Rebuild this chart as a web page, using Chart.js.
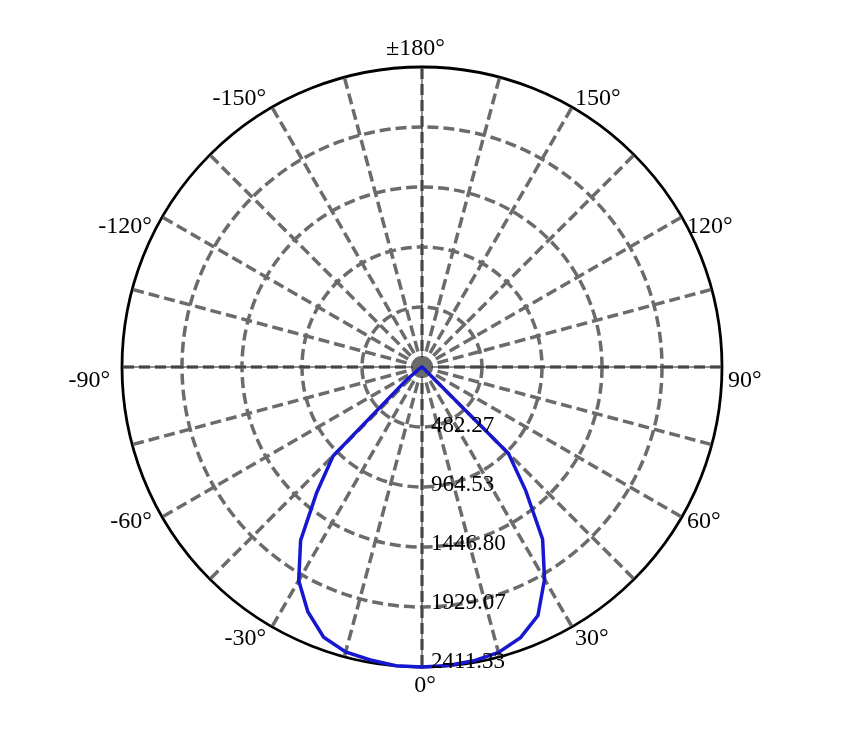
<!DOCTYPE html>
<html>
<head>
<meta charset="utf-8">
<script src="https://cdn.jsdelivr.net/npm/chart.js@4.4.1/dist/chart.umd.min.js"></script>
<style>
  html, body { margin: 0; padding: 0; background: #ffffff; }
  #wrap { width: 849px; height: 731px; }
</style>
</head>
<body>
<div id="wrap"><canvas id="polar" width="849" height="731"></canvas></div>
<script>
// === データ ===
// 角度 (0° = 下, 正 = 右回り表示), 5°刻み, 上(±180°)から時計回り
const angles = [180, 175, 170, 165, 160, 155, 150, 145, 140, 135, 130, 125,
                120, 115, 110, 105, 100, 95, 90, 85, 80, 75, 70, 65,
                60, 55, 50, 45, 40, 35, 30, 25, 20, 15, 10, 5,
                0, -5, -10, -15, -20, -25, -30, -35, -40, -45, -50, -55,
                -60, -65, -70, -75, -80, -85, -90, -95, -100, -105, -110, -115,
                -120, -125, -130, -135, -140, -145, -150, -155, -160, -165, -170, -175];

// 光度 (cd)
const intensity = [0, 0, 0, 0, 0, 0, 0, 0, 0, 0, 0, 0,
                   0, 0, 0, 0, 0, 0, 0, 0, 0, 0, 0, 0,
                   0, 4, 16, 983, 1297, 1690, 1970, 2205, 2315, 2375, 2398, 2409,
                   2411.33, 2410, 2391, 2371, 2311, 2171, 1982, 1701, 1316, 1011, 169, 24,
                   8, 0, 0, 0, 0, 0, 0, 0, 0, 0, 0, 0,
                   0, 0, 0, 0, 0, 0, 0, 0, 0, 0, 0, 0];

// 目盛り
const maxIntensity = 2411.334;
const ringLabels = ['482.27', '964.53', '1446.80', '1929.07', '2411.33'];
const angleMarks = [180, 150, 120, 90, 60, 30, 0, -30, -60, -90, -120, -150];
const angleLabels = ['±180°', '150°', '120°', '90°', '60°', '30°', '0°', '-30°', '-60°', '-90°', '-120°', '-150°'];

const GRID_GRAY = '#6b6b6b';
const LABEL_FONT = '24px "Liberation Serif"';
const TICK_FONT = '23px "Liberation Serif"';

// === 装飾 (軸ラベル, 中心) ===
const polarDecor = {
    id: 'polarDecor',
    beforeDatasetsDraw(chart) {
        const s = chart.scales.r;
        const ctx = chart.ctx;
        const R = s.drawingArea;
        ctx.save();
        // 0/90/180/270 の細い実線
        ctx.strokeStyle = '#222';
        ctx.lineWidth = 1;
        ctx.beginPath();
        ctx.moveTo(s.xCenter - R, s.yCenter);
        ctx.lineTo(s.xCenter + R, s.yCenter);
        ctx.moveTo(s.xCenter, s.yCenter - R);
        ctx.lineTo(s.xCenter, s.yCenter + R);
        ctx.stroke();
        // 中心の灰色の円
        ctx.fillStyle = GRID_GRAY;
        ctx.beginPath();
        ctx.arc(s.xCenter, s.yCenter, 9.5, 0, Math.PI * 2);
        ctx.fill();
        ctx.restore();
    },
    afterDatasetsDraw(chart) {
        const s = chart.scales.r;
        const ctx = chart.ctx;
        const R = s.drawingArea;
        const xc = s.xCenter, yc = s.yCenter;
        ctx.save();
        ctx.fillStyle = '#000';

        // 同心円の値
        ctx.font = TICK_FONT;
        ctx.textAlign = 'left';
        ctx.textBaseline = 'middle';
        s.ticks.forEach((tick, i) => {
            if (i === 0) return;
            const d = s.getDistanceFromCenterForValue(tick.value);
            ctx.fillText(ringLabels[i - 1], xc + 9, yc + d * 0.983);
        });

        // 角度ラベル
        ctx.font = LABEL_FONT;
        angleMarks.forEach((a, k) => {
            const idx = angles.indexOf(a);
            const p = s.getPointPosition(idx, R);
            const dx = (p.x - xc) / R;
            const dy = (p.y - yc) / R;
            const side = 1 - Math.abs(dy);
            const y = yc + dy * (R + 18.5 - 48 * side) + 14 * side;
            const text = angleLabels[k];
            let x;
            if (Math.abs(dx) < 0.01) {
                ctx.textAlign = 'center';
                x = xc;
                if (text.startsWith('±')) x -= ctx.measureText('±').width / 2;
                else x += 3;
            } else if (dx > 0) {
                ctx.textAlign = 'left';
                x = xc + dx * (R + 6);
            } else {
                ctx.textAlign = 'right';
                x = xc + dx * (R + 12);
            }
            ctx.fillText(text, x, y);
        });
        ctx.restore();
    }
};

// === グラフ ===
function drawPolar() {
    const ctx = document.getElementById('polar').getContext('2d');
    new Chart(ctx, {
        type: 'radar',
        data: {
            labels: angles.map(a => a + '°'),
            datasets: [{
                data: intensity,
                borderColor: '#1717cf',
                borderWidth: 3.5,
                pointRadius: 0,
                pointHoverRadius: 0,
                fill: false,
                tension: 0,
                clip: false,
            }]
        },
        options: {
            responsive: false,
            animation: false,
            layout: {
                padding: { left: 122, top: 67, right: 126, bottom: 63 }
            },
            plugins: {
                legend: { display: false },
                tooltip: { enabled: false },
            },
            scales: {
                r: {
                    min: 0,
                    max: maxIntensity,
                    ticks: {
                        count: 6,
                        display: false,
                    },
                    pointLabels: { display: false },
                    grid: {
                        circular: true,
                        color: (c) => c.index === 5 ? '#000000' : GRID_GRAY,
                        lineWidth: (c) => c.index === 5 ? 2.8 : 3.5,
                    },
                    border: {
                        dash: (c) => c.index === 5 ? [] : [11, 5],
                    },
                    angleLines: {
                        color: (c) => angles[c.index] % 15 === 0 ? GRID_GRAY : 'rgba(0,0,0,0)',
                        lineWidth: (c) => angles[c.index] % 15 === 0 ? 3.5 : 0,
                        borderDash: [11, 5],
                    },
                }
            }
        },
        plugins: [polarDecor]
    });
}

Promise.all([
    document.fonts.load(LABEL_FONT, '±0123456789.-°'),
    document.fonts.load(TICK_FONT, '0123456789.')
]).then(drawPolar, drawPolar);
</script>
</body>
</html>
